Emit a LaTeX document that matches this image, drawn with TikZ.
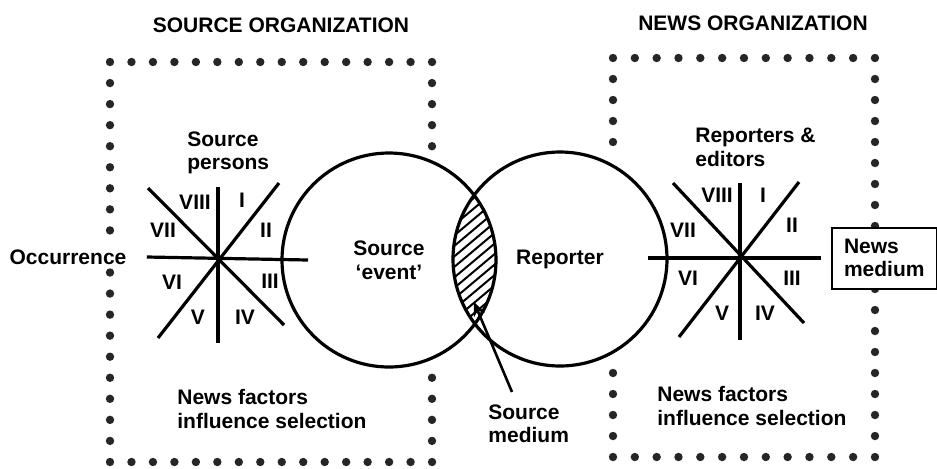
\documentclass[tikz,border=0pt]{standalone}
\usepackage{fontspec}
\setmainfont{Liberation Sans}
\usetikzlibrary{positioning}
\usetikzlibrary{arrows.meta}

\tikzset{
    txt/.style={font=\bfseries\fontsize{10.5}{11.8}\selectfont, inner sep=0pt},
    spot/.style={fill=black!85},
    spoke/.style={line width=1.6pt},
}

\begin{document}
\begin{tikzpicture}[x=0.5pt, y=-0.5pt]

        \useasboundingbox (0,0) rectangle (937,468);

        \node[txt] (srcorg) at (281,25) {SOURCE ORGANIZATION};
        \node[txt] (newsorg) at (753,23) {NEWS ORGANIZATION};

        % dotted frames
        \foreach \i in {0,...,15} {
            \fill[spot] (110+\i*21.47,62) circle (4.2);
            \fill[spot] (110+\i*21.47,462) circle (4.2);
        }
        \foreach \k in {1,...,8,10,11,...,18} \fill[spot] (110,62+\k*21.05) circle (4.2);
        \foreach \k in {1,...,4,15,16,17,18} \fill[spot] (432,62+\k*21.05) circle (4.2);

        \foreach \i in {0,...,12} {
            \fill[spot] (613+\i*21.83,58) circle (4.2);
            \fill[spot] (613+\i*21.83,457) circle (4.2);
        }
        \foreach \k in {1,...,4,15,16,17,18} \fill[spot] (613,58+\k*21) circle (4.2);
        \foreach \k in {1,...,18} \fill[spot] (875,58+\k*21) circle (4.2);

        % overlap of the two circles
        \begin{scope}
            \clip (389,260) circle (107);
            \clip (560,259) circle (107);
            \foreach \i in {-8,...,15}
                \draw[line width=1pt] (400,260+\i*10.5) -- ++(150,-126);
        \end{scope}

        \node[txt, draw, circle, line width=1.6pt, minimum size=107pt, align=center] (srcevent) at (389,260) {Source\\‘event’};
        \node[txt, draw, circle, line width=1.6pt, minimum size=107pt] (reporter) at (560,259) {Reporter};

        % left selection star
        \coordinate (lc) at (218,260);
        \coordinate (lhe) at (308,260);
        \node[txt, fill=white, inner xsep=2pt] (occ) at (68,257) {Occurrence};
        \draw[spoke] ([xshift=8pt]occ.east) -- (lhe);
        \draw[spoke] (lc) ++(0,-73) -- ++(0,156);
        \draw[spoke] (lc) ++(61,-77) -- ++(-121,155);
        \draw[spoke] (lc) ++(-70,-72) -- ++(136,137);
        \foreach \n/\dx/\dy in {I/24/-60, II/48/-30, III/52/21, IV/27/57, V/-20/57, VI/-46/22, VII/-55/-30, VIII/-23/-58}
            \node[txt] (l\n) at ([shift={(\dx,\dy)}]lc) {\n};

        % right selection star
        \coordinate (rc) at (740,258);
        \coordinate (rhs) at (648,258);
        \node[txt, draw, fill=white, line width=1pt, align=left, anchor=west, inner xsep=6pt, minimum height=30.5pt] (nmed) at (831,258) {News\\medium};
        \draw[spoke] (rhs) -- ([xshift=-5pt]nmed.west);
        \draw[spoke] (rc) ++(0,-75) -- ++(0,157);
        \draw[spoke] (rc) ++(59,-76) -- ++(-120,155);
        \draw[spoke] (rc) ++(-67,-75) -- ++(131,140);
        \foreach \n/\dx/\dy in {I/23/-63, II/52/-33, III/52/20, IV/25/55, V/-18/55, VI/-52/20, VII/-57/-28, VIII/-23/-63}
            \node[txt] (r\n) at ([shift={(\dx,\dy)}]rc) {\n};

        \node[txt, align=left, anchor=north west] (srcpers) at (187,131) {Source\\persons};
        \node[txt, align=left, anchor=north west] (repedit) at (695,128) {Reporters \&\\editors};
        \node[txt, align=left, anchor=north west] (lfactors) at (177,389) {News factors\\influence selection};
        \node[txt, align=left, anchor=north west] (rfactors) at (657,386) {News factors\\influence selection};

        \node[txt, align=left, anchor=north west] (smed) at (488,404) {Source\\medium};
        \coordinate (lens) at (474,302);
        \draw[line width=1.3pt, -{Stealth[length=7pt, width=6pt]}] ([xshift=12pt, yshift=6pt]smed.north west) -- (lens);

    \end{tikzpicture}
\end{document}
